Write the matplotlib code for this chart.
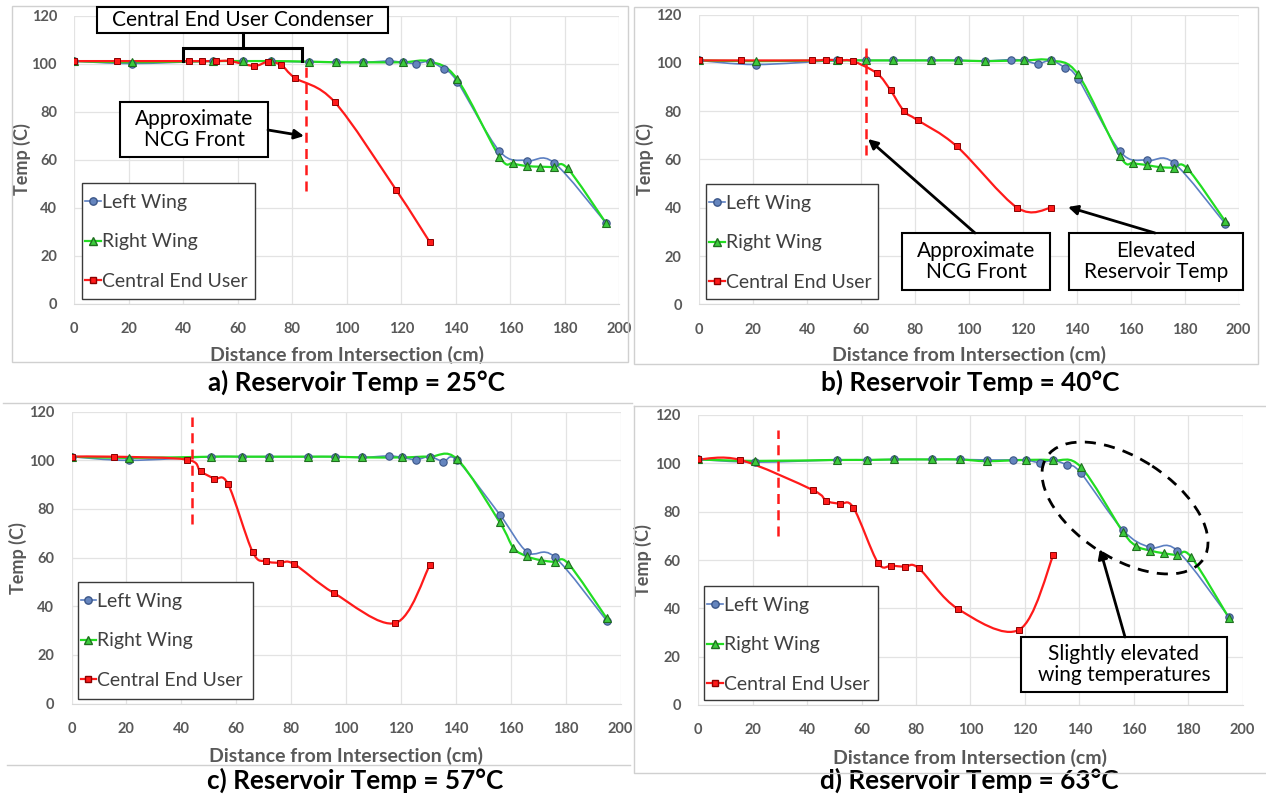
import numpy as np
import matplotlib
matplotlib.use("Agg")
import matplotlib.pyplot as plt
from matplotlib.path import Path
from matplotlib.patches import PathPatch, Rectangle, Ellipse
from matplotlib.lines import Line2D

plt.rcParams['font.family'] = ['Lato', 'DejaVu Sans']

W, H = 1266, 794

# ---- data ----
WING_L_X = [0, 21, 51, 62, 72, 86, 96, 106, 115.5, 120.5, 125.5, 130.5, 135.5, 140.5, 156, 166, 176, 195]
WING_R_X = [0, 21, 51, 62, 72, 86, 96, 106, 120.5, 130.5, 140.5, 156, 161, 166, 171, 176, 181, 195]
CENTRAL_X = [0, 15.5, 42, 47, 52, 57, 66, 71, 76, 81, 95.5, 118, 130.5]

left_a = [101, 100, 101, 101, 101, 100.6, 100.5, 100.5, 101, 100.5, 100, 100.8, 97.6, 92.5, 63.5, 59.5, 58.7, 33.7]
right_a = [101, 100.5, 101, 101, 101, 100.8, 100.5, 100.5, 100.5, 100.8, 93.5, 61.2, 58.4, 57.3, 57, 56.8, 56.3, 33.7]
central_a = [101, 101, 101, 101, 101, 101, 99, 100.7, 99.3, 94, 84, 47.5, 25.5]

left_b = [101, 99.3, 101, 101, 101, 101, 101, 100.8, 101.3, 101, 99.6, 101, 98, 93.4, 63.4, 59.6, 58.6, 33.5]
right_b = [101, 100.7, 101, 101, 101, 101, 101, 100.7, 101, 101, 95.2, 61.4, 58.6, 57.7, 56.8, 56.6, 56.3, 34.5]
central_b = [101, 101, 101, 101.3, 101, 100.7, 95.6, 88.6, 80, 76.3, 65.5, 40, 40]

left_c = [101.5, 100, 101.5, 101.5, 101.5, 101.5, 101.5, 101.2, 101.8, 101.2, 100.3, 101.5, 99.5, 100, 77.7, 62.3, 60.3, 34]
right_c = [101.5, 101, 101.5, 101.5, 101.5, 101.5, 101.5, 101.2, 101.2, 101.5, 100.5, 74.5, 64, 60.5, 58.9, 58.2, 57.5, 35]
central_c = [101.5, 101.5, 100.3, 95.5, 92.5, 90.3, 62.3, 58.5, 57.8, 57.4, 45.5, 33.1, 56.8]

left_d = [101.6, 100.5, 101.4, 101.4, 101.6, 101.6, 101.6, 101.4, 101.4, 101.4, 100.3, 101.2, 99.3, 96.1, 72.4, 65.2, 63.9, 36.3]
right_d = [101.6, 101, 101.4, 101.4, 101.6, 101.6, 101.6, 100.9, 101.4, 101.2, 98.6, 71.7, 65.8, 63.9, 62.8, 62, 61.4, 36]
central_d = [101.6, 101.4, 89, 84.5, 83.2, 81.7, 58.9, 57.7, 57.2, 56.6, 39.7, 31.2, 62.1]

series_names = ['Left Wing', 'Right Wing', 'Central End User']
captions = ["a) Reservoir Temp = 25°C", "b) Reservoir Temp = 40°C",
            "c) Reservoir Temp = 57°C", "d) Reservoir Temp = 63°C"]
ncg_front_x = [85, 62, 44, 29.5]
ncg_front_span = [(47, 100), (62, 106), (74, 118), (70, 114)]

# panel plot areas in pixels (left, top, right, bottom)
panel_px = [(74.3, 15.5, 619.3, 303.5), (699, 14.5, 1238.6, 304.5),
            (71.5, 411.7, 620.5, 703.5), (698.2, 415, 1242.6, 705)]
legend_px = [(82, 183, 255, 299), (706, 184, 878, 299),
             (77.5, 582, 253, 699), (704, 586, 878, 700)]
caption_px = [(356, 382), (970, 382), (355, 780), (969, 780)]
xtitle_y = [355, 355, 756, 758]
ylabel_x = [22, 645, 18, 643]

BLUE_LINE = '#5B7FC2'
BLUE_FACE = '#6585BE'
BLUE_EDGE = '#3B5688'
GREEN_LINE = '#22DD22'
GREEN_FACE = '#3CCB3C'
GREEN_EDGE = '#1F6F1F'
RED = '#FF1A1A'
RED_EDGE = '#8B0000'
GRAY_TXT = '#595959'


def smooth(ax, xs, ys, color, lw):
    # excel style smoothed line (catmull-rom as cubic bezier)
    n = len(xs)
    verts = [(xs[0], ys[0])]
    codes = [Path.MOVETO]
    for i in range(n - 1):
        p0 = i - 1 if i > 0 else i
        p3 = i + 2 if i + 2 < n else i + 1
        c1 = (xs[i] + (xs[i + 1] - xs[p0]) / 6.0, ys[i] + (ys[i + 1] - ys[p0]) / 6.0)
        c2 = (xs[i + 1] - (xs[p3] - xs[i]) / 6.0, ys[i + 1] - (ys[p3] - ys[i]) / 6.0)
        verts += [c1, c2, (xs[i + 1], ys[i + 1])]
        codes += [Path.CURVE4] * 3
    ax.add_patch(PathPatch(Path(verts, codes), facecolor='none', edgecolor=color,
                           lw=lw, capstyle='round', joinstyle='round'))


fig = plt.figure(figsize=(W / 100, H / 100), dpi=100)

# overlay in pixel coordinates for frames, legend boxes and call-outs
ov = fig.add_axes([0, 0, 1, 1], zorder=10)
ov.set_xlim(0, W)
ov.set_ylim(H, 0)
ov.axis('off')
ov.patch.set_alpha(0)

series = [(left_a, right_a, central_a), (left_b, right_b, central_b),
          (left_c, right_c, central_c), (left_d, right_d, central_d)]

for k in range(4):
    l, t, r, b = panel_px[k]
    ax = fig.add_axes([l / W, 1 - b / H, (r - l) / W, (b - t) / H])
    ax.set_xlim(0, 200)
    ax.set_ylim(0, 120)
    ax.set_xticks(np.arange(0, 201, 20))
    ax.set_yticks(np.arange(0, 121, 20))
    ax.grid(True, color='#E3E3E3', lw=0.9)
    ax.set_axisbelow(True)
    for s in ['top', 'right', 'left']:
        ax.spines[s].set_visible(False)
    ax.spines['bottom'].set_color('#D9D9D9')
    ax.tick_params(length=0, labelcolor=GRAY_TXT, labelsize=10.5)
    ax.tick_params(axis='y', pad=12.5)
    ax.tick_params(axis='x', pad=13)
    for lab in ax.get_xticklabels() + ax.get_yticklabels():
        lab.set_fontweight('bold')

    left, right, central = series[k]
    smooth(ax, WING_L_X, left, BLUE_LINE, 1.2)
    ax.plot(WING_L_X, left, 'o', ms=5.3, mfc=BLUE_FACE, mec=BLUE_EDGE, mew=0.8)
    smooth(ax, WING_R_X, right, GREEN_LINE, 1.6)
    ax.plot(WING_R_X, right, '^', ms=5.5, mfc=GREEN_FACE, mec=GREEN_EDGE, mew=0.8)
    smooth(ax, CENTRAL_X, central, RED, 1.6)
    ax.plot(CENTRAL_X, central, 's', ms=4.8, mfc=RED, mec=RED_EDGE, mew=0.7)

    lo, hi = ncg_front_span[k]
    ax.vlines(ncg_front_x[k], lo, hi, colors=RED, linestyles=(0, (4, 2.5)), lw=1.8)

    fig.text((l + r) / 2 / W, 1 - xtitle_y[k] / H, 'Distance from Intersection (cm)',
             ha='center', va='center', fontsize=14, fontweight='bold', color=GRAY_TXT)
    fig.text(ylabel_x[k] / W, 1 - (t + b) / 2 / H, 'Temp (C)', rotation=90,
             ha='center', va='center', fontsize=13, fontweight='bold', color=GRAY_TXT)

    # legend: white box with dark border, entries placed inside
    lx0, ly0, lx1, ly1 = legend_px[k]
    ov.add_patch(Rectangle((lx0, ly0), lx1 - lx0, ly1 - ly0, fc='white', ec='#3A3A3A', lw=1.0, zorder=1))
    handles = [Line2D([], [], color=BLUE_LINE, lw=1.2, marker='o', ms=5.3, mfc=BLUE_FACE, mec=BLUE_EDGE),
               Line2D([], [], color=GREEN_LINE, lw=1.6, marker='^', ms=5.5, mfc=GREEN_FACE, mec=GREEN_EDGE),
               Line2D([], [], color=RED, lw=1.6, marker='s', ms=4.8, mfc=RED, mec=RED_EDGE)]
    leg = ov.legend(handles, series_names, loc='upper left',
                    bbox_to_anchor=((lx0 + 3) / W, 1 - (ly0 + 11) / H), bbox_transform=fig.transFigure,
                    fontsize=14, frameon=False, handlelength=0.8, handletextpad=0.05,
                    labelspacing=1.15, borderpad=0, borderaxespad=0)
    leg.set_zorder(2)
    for txt in leg.get_texts():
        txt.set_color('#404040')
    if k < 3:
        ov.add_artist(leg)

    fig.text(caption_px[k][0] / W, 1 - caption_px[k][1] / H, captions[k],
             ha='center', va='center', fontsize=18.8, fontweight='bold', color='black')

FRAME = '#D0D0D0'
ov.add_patch(Rectangle((12, 6), 616, 356, fill=False, ec=FRAME, lw=1))
ov.add_patch(Rectangle((634, 7), 624, 357, fill=False, ec=FRAME, lw=1))
ov.plot([3, 632], [403, 403], color=FRAME, lw=1)
ov.plot([7, 630], [765, 765], color=FRAME, lw=1)
ov.plot([634, 1266, None, 634, 634, 1266], [406, 406, None, 406, 773, 773], color=FRAME, lw=1)


def box(x0, y0, x1, y1, text, fs=15):
    ov.add_patch(Rectangle((x0, y0), x1 - x0, y1 - y0, fc='white', ec='black', lw=1.5))
    ov.text((x0 + x1) / 2, (y0 + y1) / 2, text, ha='center', va='center',
            fontsize=fs, color='black', linespacing=1.1)


def arrow(tail, head):
    ov.annotate('', xy=head, xytext=tail,
                arrowprops=dict(arrowstyle='-|>', color='black', lw=2.0,
                                mutation_scale=14, shrinkA=0, shrinkB=0))


# panel a
box(97, 7, 388, 33, 'Central End User Condenser', fs=15)
ov.plot([183, 183, 302, 302], [61, 48, 48, 61], color='black', lw=2.2, solid_joinstyle='miter')
ov.plot([243, 243], [48, 33], color='black', lw=2.2)
box(120, 102, 268, 157, 'Approximate\nNCG Front')
arrow((268, 130), (304, 136))

# panel b
box(902, 233, 1050, 290, 'Approximate\nNCG Front')
arrow((975, 233), (868, 139))
box(1069, 233, 1243, 290, 'Elevated\nReservoir Temp')
arrow((1155, 233), (1068, 207))

# panel d
ov.add_patch(Ellipse((1125, 508), 187, 100, angle=33, fill=False, ec='black',
                     lw=2.0, ls=(0, (4, 3))))
box(1021, 637, 1227, 692, 'Slightly elevated\nwing temperatures')
arrow((1125, 637), (1100, 549))

fig.savefig('out.png', dpi=100)
